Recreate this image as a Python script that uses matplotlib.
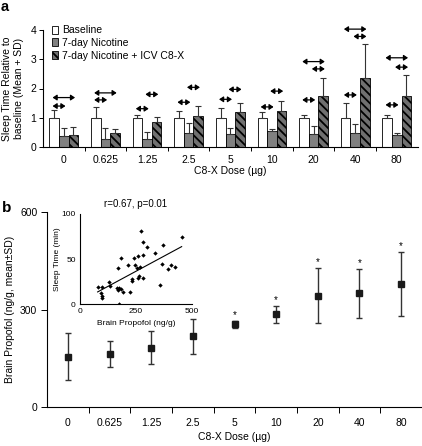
import numpy as np
import matplotlib
matplotlib.use('Agg')
import matplotlib.pyplot as plt
from matplotlib.patches import Patch

plt.rcParams['font.family'] = ['Liberation Sans', 'DejaVu Sans']
plt.rcParams['hatch.linewidth'] = 1.3

# ---------------- data ----------------
doses = ['0', '0.625', '1.25', '2.5', '5', '10', '20', '40', '80']

baseline_mean = [1.0, 1.0, 1.0, 1.0, 1.0, 1.0, 1.0, 1.0, 1.0]
baseline_sd = [0.26, 0.36, 0.09, 0.23, 0.34, 0.19, 0.11, 0.49, 0.08]
nicotine_mean = [0.39, 0.28, 0.27, 0.48, 0.43, 0.55, 0.43, 0.48, 0.40]
nicotine_sd = [0.27, 0.37, 0.25, 0.35, 0.21, 0.05, 0.30, 0.29, 0.09]
c8x_mean = [0.41, 0.48, 0.84, 1.06, 1.19, 1.22, 1.75, 2.35, 1.73]
c8x_sd = [0.29, 0.14, 0.20, 0.34, 0.31, 0.36, 0.60, 1.16, 0.73]

legend_labels = ['Baseline', '7-day Nicotine', '7-day Nicotine + ICV C8-X']

# significance arrows: (dose index, pair, height); B=baseline, N=nicotine, C=C8-X
sig_arrows = [
    (0, 'BN', 1.40), (0, 'BC', 1.69),
    (1, 'BN', 1.61), (1, 'BC', 1.85),
    (2, 'BN', 1.31), (2, 'NC', 1.80),
    (3, 'BN', 1.53), (3, 'NC', 2.04),
    (4, 'BN', 1.63), (4, 'NC', 1.97),
    (5, 'BN', 1.37), (5, 'NC', 1.91),
    (6, 'BN', 1.61), (6, 'BC', 2.92), (6, 'NC', 2.67),
    (7, 'BN', 1.78), (7, 'BC', 4.03), (7, 'NC', 3.78),
    (8, 'BN', 1.44), (8, 'BC', 3.05), (8, 'NC', 2.73),
]

propofol_mean = [155, 163, 182, 217, 254, 286, 342, 350, 378]
propofol_sd = [72, 39, 51, 53, 10, 26, 85, 75, 99]
propofol_sig = [False, False, False, False, True, True, True, True, True]

inset_propofol = [79, 97, 94, 97, 97, 131, 134, 172, 182, 164, 176, 182, 169, 194,
                  224, 176, 216, 242, 246, 254, 261, 272, 283, 301, 269, 231, 231,
                  263, 258, 281, 281, 336, 373, 366, 358, 393, 407, 425, 455]
inset_sleep = [18.8, 19.5, 12.2, 9.5, 7.3, 24.3, 20.3, 40.5, 51.6, 17.7, 18.4, 17.0,
               15.8, 14.0, 13.3, 0.3, 43.5, 50.9, 43.5, 40.5, 53.5, 81.1, 69.3, 63.4,
               41.6, 27.7, 25.8, 31.7, 28.8, 29.4, 54.6, 56.5, 65.6, 45.0, 21.4, 39.1,
               43.5, 41.6, 74.8]
inset_stats = 'r=0.67, p=0.01'

# ---------------- figure ----------------
W, H = 422, 446
fig = plt.figure(figsize=(W / 100, H / 100), dpi=100)
FS = 7.5

def frac(x0, y_top, x1, y_bot):
    return [x0 / W, 1 - y_bot / H, (x1 - x0) / W, (y_bot - y_top) / H]

# ---------- panel a ----------
ax = fig.add_axes(frac(43, 30, 417.6, 147))
x = np.arange(len(doses))
w = 0.23
ekw = dict(ecolor='#333333', elinewidth=0.8, capsize=2.5, capthick=0.8)
zeros = np.zeros(len(doses))
ax.bar(x - w, baseline_mean, w, color='white', edgecolor='black', linewidth=0.6,
       yerr=[zeros, baseline_sd], error_kw=ekw)
ax.bar(x, nicotine_mean, w, color='#808080', edgecolor='black', linewidth=0.6,
       yerr=[zeros, nicotine_sd], error_kw=ekw)
ax.bar(x + w, c8x_mean, w, color='#707070', edgecolor='black', linewidth=0.6,
       hatch='\\\\\\\\', yerr=[zeros, c8x_sd], error_kw=ekw)

offs = {'B': -w, 'N': 0.0, 'C': w}
for g, pair, yv in sig_arrows:
    x0 = g + offs[pair[0]] - 0.04
    x1 = g + offs[pair[1]] + 0.04
    ax.annotate('', xy=(x1, yv), xytext=(x0, yv),
                arrowprops=dict(arrowstyle='<|-|>,head_length=0.45,head_width=0.3',
                                color='black', lw=0.9, shrinkA=0, shrinkB=0,
                                mutation_scale=5.5),
                annotation_clip=False)

ax.set_xlim(-0.5, len(doses) - 0.5)
ax.set_ylim(0, 4)
ax.set_yticks([0, 1, 2, 3, 4])
ax.set_xticks(np.arange(0.5, len(doses) - 1, 1))
ax.set_xticklabels([])
ax.set_xticks(x, minor=True)
ax.set_xticklabels(doses, minor=True)
ax.tick_params(axis='x', which='major', length=3, width=0.7, direction='out')
ax.tick_params(axis='x', which='minor', length=0, pad=6, labelsize=FS)
ax.tick_params(axis='y', length=3, width=0.7, pad=2, labelsize=FS)
for s in ['top', 'right']:
    ax.spines[s].set_visible(False)
for s in ['left', 'bottom']:
    ax.spines[s].set_linewidth(0.8)
ax.set_xlabel('C8-X Dose (µg)', fontsize=FS)
ax.xaxis.set_label_coords(0.5, -0.165)
ax.set_ylabel('Sleep Time Relative to\nbaseline (Mean + SD)', fontsize=FS)
ax.yaxis.set_label_coords(-0.052, 0.5)

handles = [Patch(facecolor='white', edgecolor='black', linewidth=0.6),
           Patch(facecolor='#808080', edgecolor='black', linewidth=0.6),
           Patch(facecolor='#707070', edgecolor='black', linewidth=0.6, hatch='\\\\\\\\')]
ax.legend(handles, legend_labels, loc='upper left', bbox_to_anchor=(0.025, 1.04),
          frameon=False, fontsize=FS, handlelength=0.55, handleheight=0.8,
          handletextpad=0.35, labelspacing=0.25, borderaxespad=0, borderpad=0)

fig.text(1 / W, 1 - 0 / H, 'a', fontsize=10.5, fontweight='bold', ha='left', va='top')

# ---------- panel b ----------
bx = fig.add_axes(frac(47, 212, 422, 407))
bx.errorbar(x, propofol_mean, yerr=propofol_sd, fmt='s', color='#1a1a1a', ms=5,
            ecolor='#333333', elinewidth=1.0, capsize=2.5, capthick=1.0)
for i, sig in enumerate(propofol_sig):
    if sig:
        bx.text(i, propofol_mean[i] + propofol_sd[i] + 18, '*', ha='center',
                va='center', fontsize=7)
bx.set_xlim(-0.5, len(doses) - 0.5)
bx.set_ylim(0, 600)
bx.set_yticks([0, 300, 600])
bx.set_xticks(np.arange(0.5, len(doses) - 1, 1))
bx.set_xticklabels([])
bx.set_xticks(x, minor=True)
bx.set_xticklabels(doses, minor=True)
bx.tick_params(axis='x', which='major', length=4, width=0.7, direction='out')
bx.tick_params(axis='x', which='minor', length=0, pad=8, labelsize=FS)
bx.tick_params(axis='y', length=4, width=0.7, pad=3, labelsize=FS)
for s in ['top', 'right']:
    bx.spines[s].set_visible(False)
for s in ['left', 'bottom']:
    bx.spines[s].set_linewidth(0.8)
bx.set_xlabel('C8-X Dose (µg)', fontsize=FS)
bx.xaxis.set_label_coords(0.5, -0.13)
bx.set_ylabel('Brain Propofol (ng/g, mean±SD)', fontsize=FS)
bx.yaxis.set_label_coords(-0.085, 0.5)

fig.text(2 / W, 1 - 201 / H, 'b', fontsize=11, fontweight='bold', ha='left', va='top')

# ---------- inset ----------
ix = fig.add_axes(frac(80, 214, 191.7, 304.3))
ix.patch.set_alpha(0)
ix.scatter(inset_propofol, inset_sleep, s=5, marker='D', color='black', linewidths=0)
coef = np.polyfit(inset_propofol, inset_sleep, 1)
xs = np.array([min(inset_propofol), max(inset_propofol)])
ix.plot(xs, np.polyval(coef, xs), color='black', lw=0.8)
ix.set_xlim(0, 500)
ix.set_ylim(0, 100)
ix.set_xticks([0, 250, 500])
ix.set_yticks([0, 50, 100])
ix.tick_params(length=0, labelsize=6, pad=3)
for s in ['top', 'right']:
    ix.spines[s].set_visible(False)
for s in ['left', 'bottom']:
    ix.spines[s].set_linewidth(0.8)
ix.set_xlabel('Brain Propofol (ng/g)', fontsize=6)
ix.xaxis.set_label_coords(0.5, -0.17)
ix.set_ylabel('Sleep Time (min)', fontsize=6)
ix.yaxis.set_label_coords(-0.17, 0.5)
ix.text(250, 111, inset_stats, ha='center', va='center', fontsize=7)

fig.savefig('out.png', dpi=100)
